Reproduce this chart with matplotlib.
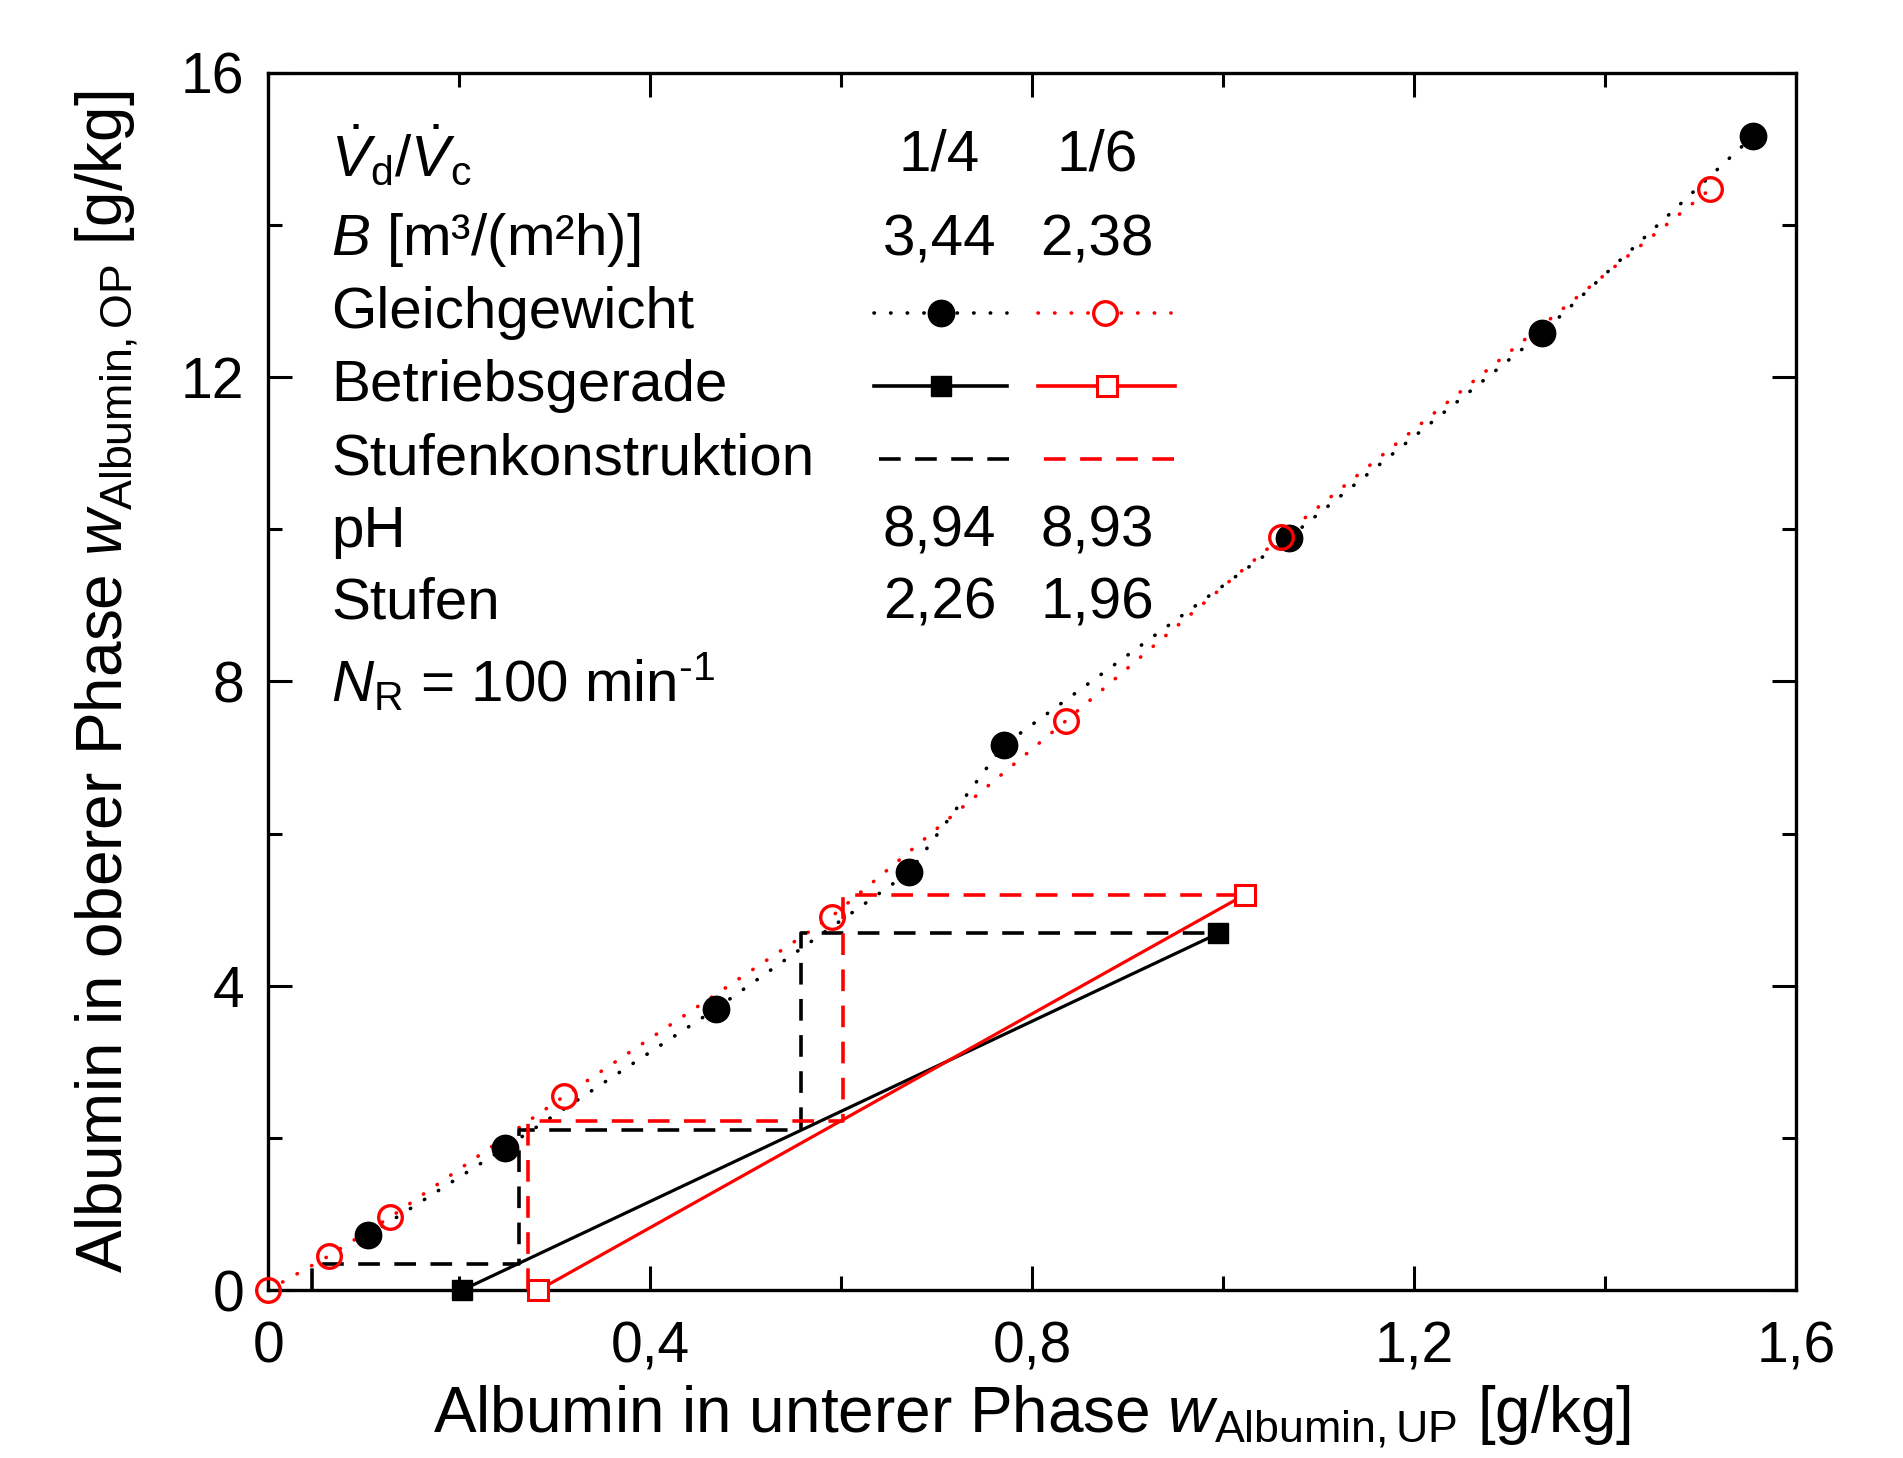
import matplotlib
matplotlib.use("Agg")
import matplotlib.pyplot as plt
import numpy as np

plt.rcParams['font.family'] = ['Liberation Sans', 'DejaVu Sans']
plt.rcParams['mathtext.fontset'] = 'custom'
plt.rcParams['mathtext.rm'] = 'Liberation Sans'
plt.rcParams['mathtext.it'] = 'Liberation Sans:italic'

# equilibrium data (Gleichgewicht)
eq14_x = [0.105, 0.248, 0.469, 0.671, 0.770, 1.069, 1.334, 1.555]
eq14_y = [0.72, 1.87, 3.70, 5.49, 7.16, 9.89, 12.58, 15.17]
eq16_x = [0.0, 0.0635, 0.128, 0.310, 0.590, 0.835, 1.061, 1.510]
eq16_y = [0.0, 0.45, 0.96, 2.55, 4.91, 7.48, 9.90, 14.47]

# operating lines (Betriebsgerade)
op14_x = [0.203, 0.995]
op14_y = [0.0, 4.69]
op16_x = [0.283, 1.023]
op16_y = [0.0, 5.20]

# step construction (Stufenkonstruktion)
st14_x = [0.046, 0.046, 0.263, 0.263, 0.558, 0.558, 0.995]
st14_y = [0.0, 0.34, 0.34, 2.10, 2.10, 4.69, 4.69]
st16_x = [0.272, 0.272, 0.602, 0.602, 1.023]
st16_y = [0.0, 2.22, 2.22, 5.20, 5.20]

# table text
row_labels = [r'$\dot{V}_\mathrm{d}/\dot{V}_\mathrm{c}$', r'$B$ [m³/(m²h)]', 'Gleichgewicht',
              'Betriebsgerade', 'Stufenkonstruktion', 'pH', 'Stufen',
              r'$N_\mathrm{R}$ = 100 min$^{\mathrm{‐1}}$']
row_y = [14.91, 13.80, 12.84, 11.88, 10.92, 9.97, 9.03, 7.99]
col14 = ['1/4', '3,44', None, None, None, '8,94', '2,26', None]
col16 = ['1/6', '2,38', None, None, None, '8,93', '1,96', None]

fig = plt.figure(figsize=(19.03, 14.58), dpi=100)
ax = fig.add_axes([0.1409, 0.1151, 0.8030, 0.8350])

red = '#ff0000'
dot = (0, (0.1, 4.5))
dash = (0, (6, 4))
# equilibrium dotted lines
ax.plot(eq14_x, eq14_y, ls=dot, color='k', lw=2.6, dash_capstyle='round', zorder=2)
ax.plot(eq16_x, eq16_y, ls=dot, color=red, lw=2.6, dash_capstyle='round', zorder=2)
# step construction
ax.plot(st14_x, st14_y, ls=dash, color='k', lw=2.6, zorder=3)
ax.plot(st16_x, st16_y, ls=dash, color=red, lw=2.6, zorder=3)
# operating lines
ax.plot(op14_x, op14_y, '-', color='k', lw=2.3, zorder=4)
ax.plot(op16_x, op16_y, '-', color=red, lw=2.3, zorder=4)
ax.plot(op14_x, op14_y, 's', color='k', ms=15, ls='none', zorder=6, clip_on=False)
ax.plot(op16_x, op16_y, 's', mfc='white', mec=red, mew=2.2, ms=14, ls='none', zorder=6, clip_on=False)
# equilibrium markers
ax.plot(eq14_x, eq14_y, 'o', color='k', ms=19, ls='none', zorder=5, clip_on=False)
ax.plot(eq16_x, eq16_y, 'o', mfc='none', mec=red, mew=2.4, ms=17, ls='none', zorder=5, clip_on=False)

# table / legend
fs = 42
for lab, yy, c1, c2 in zip(row_labels, row_y, col14, col16):
    ax.text(0.066, yy, lab, fontsize=fs, va='center', ha='left')
    if c1 is not None:
        ax.text(0.703, yy, c1, fontsize=fs, va='center', ha='center')
        ax.text(0.868, yy, c2, fontsize=fs, va='center', ha='center')

# legend samples
gy, by, sy = row_y[2], row_y[3], row_y[4]
ax.plot([0.634, 0.774], [gy, gy], ls=dot, color='k', lw=2.6, dash_capstyle='round')
ax.plot([0.704], [gy], 'o', color='k', ms=19)
ax.plot([0.806, 0.945], [gy, gy], ls=dot, color=red, lw=2.6, dash_capstyle='round')
ax.plot([0.876], [gy], 'o', mfc='white', mec=red, mew=2.4, ms=17)
ax.plot([0.634, 0.774], [by, by], '-', color='k', lw=2.6)
ax.plot([0.704], [by], 's', color='k', ms=15)
ax.plot([0.806, 0.950], [by, by], '-', color=red, lw=2.6)
ax.plot([0.878], [by], 's', mfc='white', mec=red, mew=2.2, ms=14)
ax.plot([0.640, 0.784], [sy, sy], ls=dash, color='k', lw=2.6)
ax.plot([0.812, 0.958], [sy, sy], ls=dash, color=red, lw=2.6)

ax.set_xlim(0, 1.6)
ax.set_ylim(0, 16)
ax.set_xticks([0, 0.4, 0.8, 1.2, 1.6])
ax.set_xticklabels(['0', '0,4', '0,8', '1,2', '1,6'])
ax.set_xticks([0.2, 0.6, 1.0, 1.4], minor=True)
ax.set_yticks([0, 4, 8, 12, 16])
ax.set_yticklabels(['0', '4', '8', '12', '16'])
ax.set_yticks([2, 6, 10, 14], minor=True)
ax.tick_params(which='both', direction='in', top=True, right=True, width=2.2,
               labelsize=41)
ax.tick_params(which='major', length=17)
ax.tick_params(which='minor', length=10)
ax.tick_params(axis='x', which='major', pad=22)
ax.tick_params(axis='y', which='major', pad=17)
for sp in ax.spines.values():
    sp.set_linewidth(2.4)

ax.set_xlabel(r'Albumin in unterer Phase $w_\mathrm{Albumin,UP}$ [g/kg]', fontsize=46, labelpad=6)
ax.set_ylabel(r'Albumin in oberer Phase $w_\mathrm{Albumin,OP}$ [g/kg]', fontsize=46, labelpad=30)

fig.savefig('out.png', dpi=100)
